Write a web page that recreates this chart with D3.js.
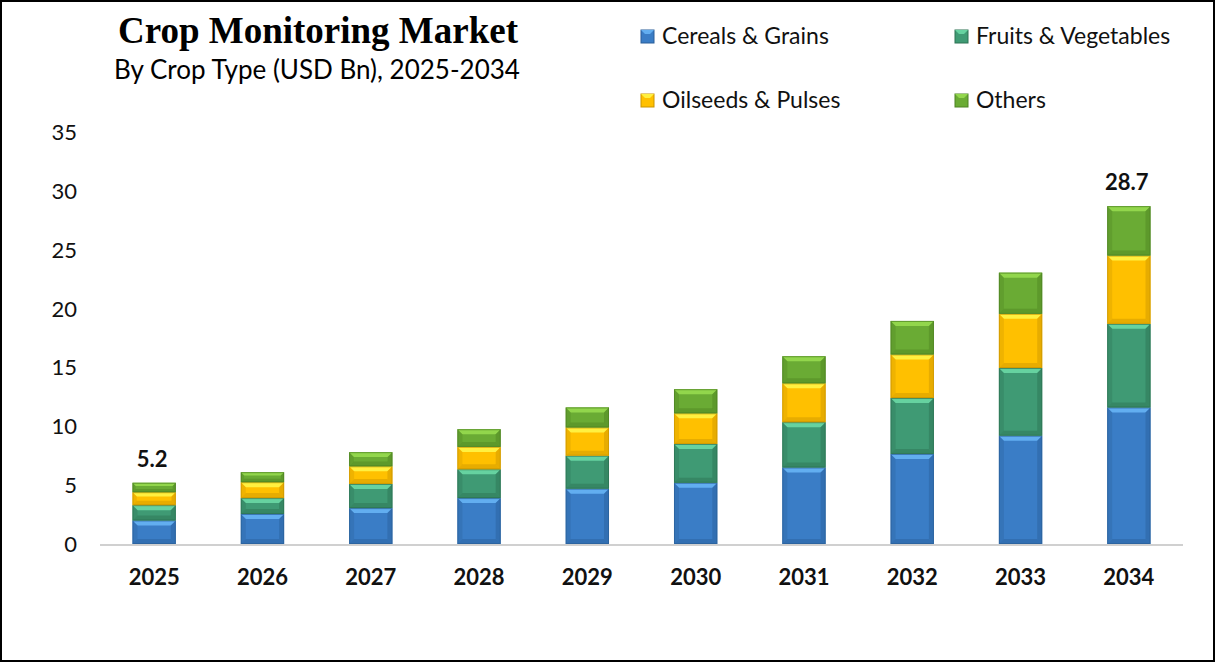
<!DOCTYPE html>
<html>
<head>
<meta charset="utf-8">
<script src="https://cdn.jsdelivr.net/npm/d3@7"></script>
<style>
  body { margin: 0; background: #fff; }
  svg { display: block; }
</style>
</head>
<body>
<div id="chart"></div>
<script>
const years = ['2025', '2026', '2027', '2028', '2029', '2030', '2031', '2032', '2033', '2034'];
const seriesNames = ['Cereals & Grains', 'Fruits & Vegetables', 'Oilseeds & Pulses', 'Others'];
const cereals = [2.0, 2.55, 3.05, 3.9, 4.7, 5.2, 6.5, 7.65, 9.2, 11.6];
const fruits = [1.3, 1.35, 2.05, 2.45, 2.8, 3.3, 3.85, 4.75, 5.75, 7.1];
const oilseeds = [1.1, 1.35, 1.5, 1.9, 2.4, 2.6, 3.3, 3.7, 4.6, 5.8];
const others = [0.8, 0.85, 1.2, 1.5, 1.7, 2.05, 2.3, 2.85, 3.5, 4.2];
const labelled = { '2025': '5.2', '2034': '28.7' };
const yTicks = [0, 5, 10, 15, 20, 25, 30, 35];

const colors = [
  { main: '#3a7dc6', light: '#62aef0', dark: '#2a5f99' },
  { main: '#3f9a74', light: '#66d2a0', dark: '#2c7253' },
  { main: '#ffc000', light: '#fff040', dark: '#c99400' },
  { main: '#6aab34', light: '#92d64c', dark: '#4d8222' }
];

const W = 1215, H = 662;
const font = 'Lato, "Open Sans", sans-serif';
const svg = d3.select('#chart').append('svg').attr('width', W).attr('height', H);

svg.append('rect').attr('x', 1).attr('y', 1).attr('width', W - 2).attr('height', H - 2)
  .attr('fill', '#fff').attr('stroke', '#000').attr('stroke-width', 2);

const x = d3.scaleBand().domain(years).range([100, 1183]).paddingInner(0.6).paddingOuter(0.3);
const y = d3.scaleLinear().domain([0, 35]).range([544, 132]);

// rows for stacking
const rows = years.map((yr, i) => ({ year: yr, c: cereals[i], f: fruits[i], o: oilseeds[i], t: others[i] }));
const stack = d3.stack().keys(['c', 'f', 'o', 't'])(rows);

// y axis labels
svg.append('g').selectAll('text').data(yTicks).enter().append('text')
  .attr('x', 77).attr('y', d => y(d) + 8)
  .attr('text-anchor', 'end')
  .style('font-family', font).style('font-size', '22px').attr('fill', '#111')
  .text(d => d);

// baseline
svg.append('line').attr('x1', 100).attr('x2', 1183).attr('y1', y(0) + 1).attr('y2', y(0) + 1)
  .attr('stroke', '#d0d0d0').attr('stroke-width', 2);

// bars with bevel
const bev = 5;
stack.forEach((layer, li) => {
  const col = colors[li];
  const g = svg.append('g');
  layer.forEach(d => {
    const x0 = x(d.data.year), w = x.bandwidth();
    const top = y(d[1]), bot = y(d[0]);
    const h = bot - top;
    const b = Math.min(bev, h / 3);
    g.append('rect').attr('x', x0).attr('y', top).attr('width', w).attr('height', h).attr('fill', col.main);
    // top bevel
    g.append('polygon').attr('points', [[x0, top], [x0 + w, top], [x0 + w - b, top + b], [x0 + b, top + b]].join(' '))
      .attr('fill', col.light);
    // bottom bevel
    g.append('polygon').attr('points', [[x0, bot], [x0 + w, bot], [x0 + w - b, bot - b], [x0 + b, bot - b]].join(' '))
      .attr('fill', col.dark).attr('opacity', 0.45);
    // side bevels
    g.append('polygon').attr('points', [[x0, top], [x0 + b, top + b], [x0 + b, bot - b], [x0, bot]].join(' '))
      .attr('fill', col.dark).attr('opacity', 0.3);
    g.append('polygon').attr('points', [[x0 + w, top], [x0 + w - b, top + b], [x0 + w - b, bot - b], [x0 + w, bot]].join(' '))
      .attr('fill', col.dark).attr('opacity', 0.45);
    g.append('rect').attr('x', x0 + 0.5).attr('y', top + 0.5).attr('width', w - 1).attr('height', h - 1)
      .attr('fill', 'none').attr('stroke', col.dark).attr('stroke-width', 1).attr('opacity', 0.7);
  });
});

// total labels
const totals = rows.map(r => ({ year: r.year, total: r.c + r.f + r.o + r.t }));
svg.append('g').selectAll('text').data(totals.filter(d => labelled[d.year])).enter().append('text')
  .attr('x', d => x(d.year) + x.bandwidth() / 2 - 2)
  .attr('y', d => y(d.total) - 16)
  .attr('text-anchor', 'middle')
  .style('font-family', font).style('font-size', '22px').style('font-weight', 'bold')
  .attr('fill', '#111')
  .text(d => labelled[d.year]);

// x labels
svg.append('g').selectAll('text').data(years).enter().append('text')
  .attr('x', d => x(d) + x.bandwidth() / 2)
  .attr('y', 585)
  .attr('text-anchor', 'middle')
  .style('font-family', font).style('font-size', '22px').style('font-weight', 'bold')
  .attr('fill', '#111')
  .text(d => d);

// title
svg.append('text').attr('x', 318).attr('y', 43).attr('text-anchor', 'middle')
  .style('font-family', '"Liberation Serif", "Times New Roman", serif').style('font-size', '37px').style('font-weight', 'bold')
  .attr('fill', '#000').text('Crop Monitoring Market');
svg.append('text').attr('x', 317).attr('y', 79).attr('text-anchor', 'middle')
  .style('font-family', font).style('font-size', '26px')
  .attr('fill', '#000').text('By Crop Type (USD Bn), 2025-2034');

// legend
const legendPos = [[641, 36], [955, 36], [641, 100], [955, 100]];
const legend = svg.append('g').selectAll('g').data(seriesNames).enter().append('g')
  .attr('transform', (d, i) => `translate(${legendPos[i][0]},${legendPos[i][1]})`);
legend.append('rect').attr('x', 0).attr('y', -6).attr('width', 13).attr('height', 13)
  .attr('fill', (d, i) => colors[i].main).attr('stroke', (d, i) => colors[i].dark).attr('stroke-width', 1);
legend.append('polygon').attr('points', '0,-6 13,-6 9,-2 4,-2')
  .attr('fill', (d, i) => colors[i].light);
legend.append('text').attr('x', 21).attr('y', 8)
  .style('font-family', font).style('font-size', '23px')
  .attr('fill', '#111').text(d => d);
</script>
</body>
</html>
